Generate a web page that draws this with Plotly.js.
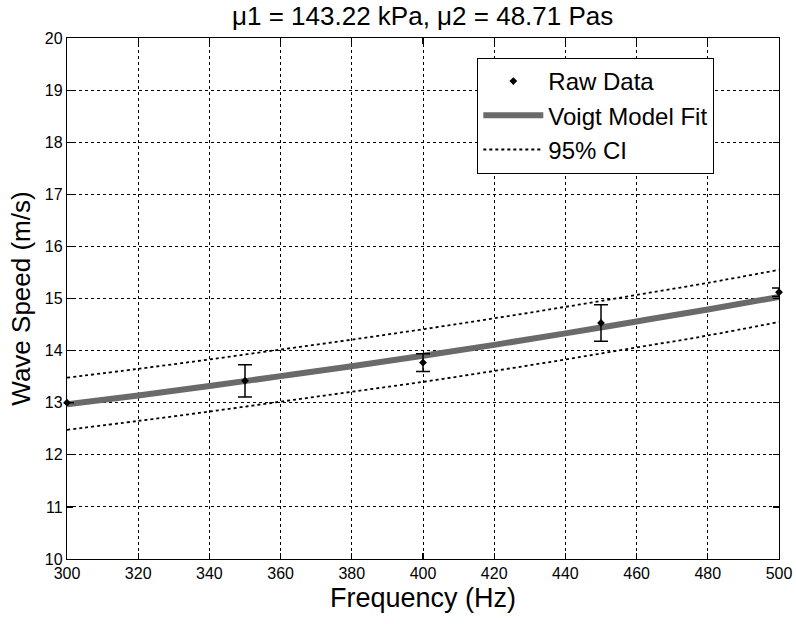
<!DOCTYPE html>
<html>
<head>
<meta charset="utf-8">
<script src="https://cdn.plot.ly/plotly-3.0.1.min.js"></script>
<style>html,body{margin:0;padding:0;background:#fff;}#chart{width:796px;height:624px;}</style>
</head>
<body>
<div id="chart"></div>
<script>
// Raw data
const rawFreq = [300, 350, 400, 450, 500];
const rawSpeed = [13.0, 13.42, 13.77, 14.53, 15.12];
const rawErr = [0.0, 0.31, 0.17, 0.35, 0.08];

// Voigt model fit and 95% CI
const fitFreq = [300, 320, 340, 360, 380, 400, 420, 440, 460, 480, 500];
const fitSpeed = [12.97, 13.14, 13.32, 13.51, 13.70, 13.90, 14.11, 14.33, 14.56, 14.79, 15.03];
const ciUpper = [13.48, 13.65, 13.83, 14.02, 14.21, 14.41, 14.62, 14.84, 15.07, 15.30, 15.55];
const ciLower = [12.48, 12.65, 12.83, 13.02, 13.21, 13.40, 13.61, 13.83, 14.06, 14.29, 14.55];

const xTicks = [300, 320, 340, 360, 380, 400, 420, 440, 460, 480, 500];
const yTicks = [10, 11, 12, 13, 14, 15, 16, 17, 18, 19, 20];

const font = "Arial, 'Liberation Sans', sans-serif";

const traces = [
  {
    x: rawFreq, y: rawSpeed, name: 'Raw Data', type: 'scatter', mode: 'markers',
    marker: {color: '#000', size: 6, symbol: 'diamond'},
    error_y: {type: 'data', array: rawErr, visible: true, color: '#000', thickness: 1.5, width: 7},
    cliponaxis: false, legendrank: 1
  },
  {
    x: fitFreq, y: fitSpeed, name: 'Voigt Model Fit', type: 'scatter', mode: 'lines',
    line: {color: '#6a6a6a', width: 6, shape: 'spline'}, legendrank: 2
  },
  {
    x: fitFreq, y: ciUpper, name: '95% CI', type: 'scatter', mode: 'lines',
    line: {color: '#000', width: 1.8, dash: 'dot', shape: 'spline'}, legendrank: 3
  },
  {
    x: fitFreq, y: ciLower, name: '95% CI lower', type: 'scatter', mode: 'lines', showlegend: false,
    line: {color: '#000', width: 1.8, dash: 'dot', shape: 'spline'}
  }
];

const data = [traces[1], traces[2], traces[3], traces[0]];

const axisCommon = {
  showline: true, linecolor: '#000', linewidth: 1.2, mirror: 'allticks',
  ticks: 'inside', ticklen: 6, tickcolor: '#000', tickwidth: 1.2,
  showgrid: true, gridcolor: '#000', gridwidth: 1, griddash: 'dot',
  zeroline: false, tickfont: {family: font, size: 16, color: '#000'}
};

const layout = {
  width: 796, height: 624,
  margin: {l: 67, r: 17, t: 38, b: 65},
  paper_bgcolor: '#fff', plot_bgcolor: '#fff',
  title: {text: 'μ1 = 143.22 kPa, μ2 = 48.71 Pas', font: {family: font, size: 26, color: '#000'}, x: 0.531, xanchor: 'center', y: 0.975, yanchor: 'middle'},
  xaxis: Object.assign({}, axisCommon, {
    range: [300, 500], tickvals: xTicks, ticktext: xTicks.map(String),
    title: {text: 'Frequency (Hz)', font: {family: font, size: 27, color: '#000'}, standoff: 6}
  }),
  yaxis: Object.assign({}, axisCommon, {
    range: [10, 20], tickvals: yTicks, ticktext: yTicks.map(String),
    title: {text: 'Wave Speed (m/s)', font: {family: font, size: 26, color: '#000'}, standoff: 6}
  }),
  legend: {
    x: 0.576, y: 0.962, xanchor: 'left', yanchor: 'top',
    bgcolor: '#fff', bordercolor: '#000', borderwidth: 1.2,
    font: {family: font, size: 24, color: '#000'},
    traceorder: 'normal', itemwidth: 60, tracegroupgap: 4
  },
  showlegend: true
};

Plotly.newPlot('chart', data, layout, {displayModeBar: false, staticPlot: true});
</script>
</body>
</html>
